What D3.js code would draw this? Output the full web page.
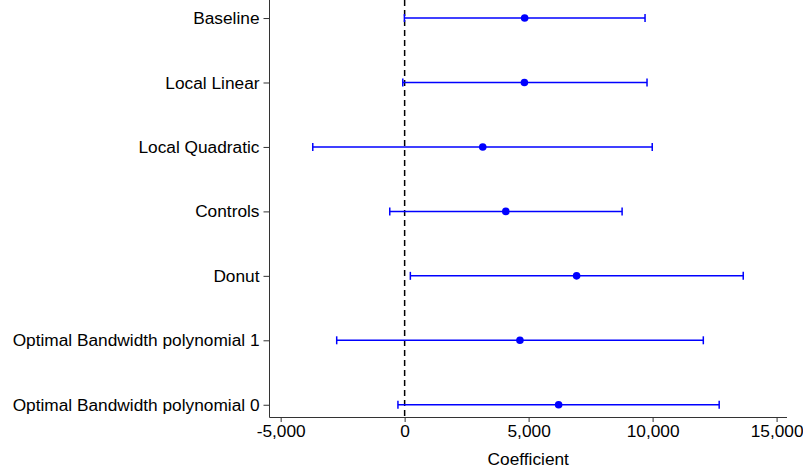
<!DOCTYPE html>
<html>
<head>
<meta charset="utf-8">
<script src="https://cdn.jsdelivr.net/npm/d3@7"></script>
<style>
  body { margin: 0; background: #fff; }
  svg text { font-family: "Liberation Sans", Arial, sans-serif; fill: #000; }
</style>
</head>
<body>
<svg id="chart" width="803" height="470"></svg>
<script>
// specifications, top to bottom
const specs = [
  "Baseline",
  "Local Linear",
  "Local Quadratic",
  "Controls",
  "Donut",
  "Optimal Bandwidth polynomial 1",
  "Optimal Bandwidth polynomial 0"
];
const coef  = [4840, 4830, 3150, 4080, 6935, 4650, 6210];
const lower = [-10, -75, -3705, -600, 230, -2740, -270];
const upper = [9695, 9775, 9985, 8770, 13655, 12045, 12685];
const xTicks = [-5000, 0, 5000, 10000, 15000];

var svg = d3.select("#chart");

var x = d3.scaleLinear().domain([-5450, 15420]).range([269.5, 787]);
var y = d3.scaleLinear().domain([-0.28, 6.19]).range([0, 417]);

const rows = specs.map((name, i) => ({ name, i, b: coef[i], lo: lower[i], hi: upper[i] }));

const fmt = d => d3.format(",")(d).replace("\u2212", "-");

// x axis
var xAxis = svg.append("g")
  .attr("transform", "translate(0,417)")
  .call(d3.axisBottom(x).tickValues(xTicks).tickSize(5).tickPadding(3).tickFormat(fmt));
xAxis.select(".domain").attr("stroke", "#333").attr("d", "M269.5,0.5H787");
xAxis.selectAll(".tick line").attr("stroke", "#333");
xAxis.selectAll("text").attr("font-size", 17.3).attr("fill", "#000");

// y axis
var yAxis = svg.append("g")
  .attr("transform", "translate(269.5,0)")
  .call(d3.axisLeft(y).tickValues(d3.range(specs.length)).tickSize(6).tickPadding(4)
    .tickFormat(i => specs[i]));
yAxis.select(".domain").attr("stroke", "#333").attr("d", "M0,0V417.5");
yAxis.selectAll(".tick line").attr("stroke", "#333");
yAxis.selectAll("text").attr("font-size", 17.3).attr("fill", "#000");

// zero reference line
svg.append("line")
  .attr("x1", x(0)).attr("x2", x(0))
  .attr("y1", 0).attr("y2", 417)
  .attr("stroke", "#000")
  .attr("stroke-width", 1.5)
  .attr("stroke-dasharray", "6,4");

var g = svg.append("g");

// confidence intervals
g.selectAll("line.ci")
  .data(rows)
  .enter()
  .append("line")
  .attr("class", "ci")
  .attr("x1", d => x(d.lo)).attr("x2", d => x(d.hi))
  .attr("y1", d => y(d.i)).attr("y2", d => y(d.i))
  .attr("stroke", "#0000ff")
  .attr("stroke-width", 1.5);

// caps
["lo", "hi"].forEach(k => {
  g.selectAll("line.cap-" + k)
    .data(rows)
    .enter()
    .append("line")
    .attr("x1", d => x(d[k])).attr("x2", d => x(d[k]))
    .attr("y1", d => y(d.i) - 4).attr("y2", d => y(d.i) + 4)
    .attr("stroke", "#0000ff")
    .attr("stroke-width", 1.5);
});

// point estimates
g.selectAll("circle")
  .data(rows)
  .enter()
  .append("circle")
  .attr("cx", d => x(d.b))
  .attr("cy", d => y(d.i))
  .attr("r", 3.8)
  .attr("fill", "#0000ff");

// axis title
svg.append("text")
  .attr("x", (269.5 + 787) / 2)
  .attr("y", 465)
  .attr("text-anchor", "middle")
  .attr("font-size", 17.3)
  .text("Coefficient");
</script>
</body>
</html>
